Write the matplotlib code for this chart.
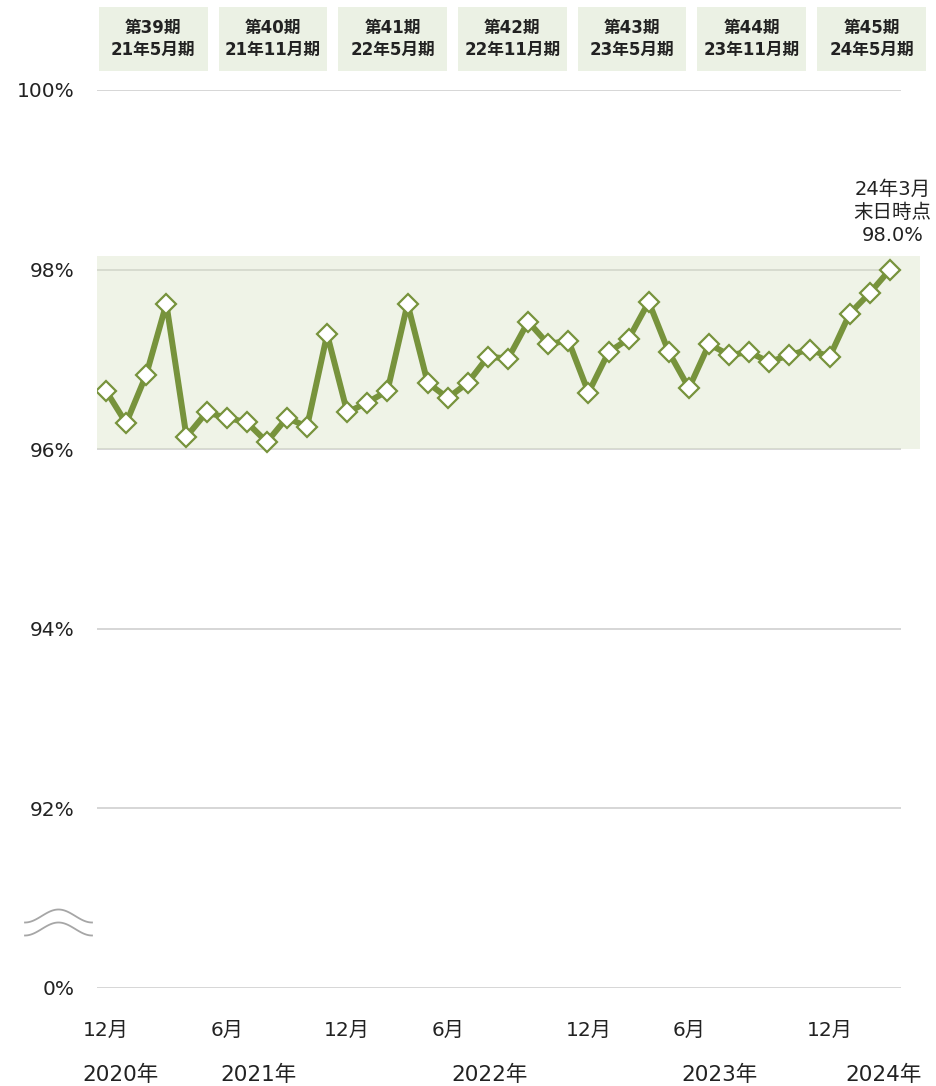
import numpy as np
import matplotlib
matplotlib.use("Agg")
import matplotlib.pyplot as plt
from matplotlib.patches import Rectangle
from matplotlib.lines import Line2D
import matplotlib.transforms as mtransforms

plt.rcParams['font.family'] = ['DejaVu Sans', 'Noto Sans CJK JP']

# monthly occupancy rate (%), Dec 2020 .. Mar 2024
rates = [96.65, 96.29, 96.83, 97.62, 96.14, 96.41, 96.35, 96.30, 96.08, 96.35,
         96.25, 97.28, 96.41, 96.52, 96.65, 97.62, 96.74, 96.57, 96.74, 97.03,
         97.01, 97.42, 97.17, 97.21, 96.63, 97.08, 97.23, 97.64, 97.08, 96.68,
         97.17, 97.05, 97.08, 96.97, 97.05, 97.11, 97.03, 97.51, 97.74, 98.00]
months = np.arange(len(rates))

month_pos = [0, 6, 12, 17, 24, 29, 36]
month_labels = ['12月', '6月', '12月', '6月', '12月', '6月', '12月']
year_pos = [0.7, 7.6, 19.1, 30.5, 38.7]
year_labels = ['2020年', '2021年', '2022年', '2023年', '2024年']

period_labels = ['第39期\n21年5月期', '第40期\n21年11月期', '第41期\n22年5月期',
                 '第42期\n22年11月期', '第43期\n23年5月期', '第44期\n23年11月期',
                 '第45期\n24年5月期']

ytick_pos = [90, 92, 94, 96, 98, 100]
ytick_labels = ['0%', '92%', '94%', '96%', '98%', '100%']

green = '#77933C'

fig = plt.figure(figsize=(9.37, 10.86), dpi=100)
ax = fig.add_axes([97/937, 1-988/1086, 804/937, 898/1086])
ax.set_xlim(-0.45, 39.55)
ax.set_ylim(90, 100)
for s in ax.spines.values():
    s.set_visible(False)

ax.set_yticks(ytick_pos)
ax.set_yticklabels(ytick_labels, fontsize=14.5, color='#222222')
ax.tick_params(axis='y', length=0, pad=16)
ax.set_xticks([])
for y in ytick_pos:
    ax.axhline(y, color='#D6D6D6', lw=1.4, zorder=1)

# shaded band
ax.add_patch(Rectangle((0, 96), 1.0236, 2.15, transform=mtransforms.blended_transform_factory(ax.transAxes, ax.transData),
                       fc='#D7E2C4', alpha=0.4, ec='none', clip_on=False, zorder=2))

ax.plot(months, rates, color=green, lw=4.3, marker='D', ms=10, mfc='white',
        mec=green, mew=1.6, zorder=5)

ax.annotate(f"24年3月\n末日時点\n{rates[-1]:.1f}%", xy=(months[-1], rates[-1]),
            xytext=(2, 18), textcoords='offset points', ha='center', va='bottom',
            fontsize=14, color='#222222', linespacing=1.25)

xt = ax.get_xaxis_transform()
for p, l in zip(month_pos, month_labels):
    ax.text(p, -0.047, l, transform=xt, ha='center', va='center', fontsize=14.5, color='#222222')
for p, l in zip(year_pos, year_labels):
    ax.text(p, -0.097, l, transform=xt, ha='center', va='center', fontsize=15.5, color='#222222')

# period header boxes
ht = mtransforms.blended_transform_factory(ax.transData, fig.transFigure)
for i, lab in enumerate(period_labels):
    c = 2.35 + 5.955 * i
    ax.add_patch(Rectangle((c - 2.7, 1 - 71/1086), 5.4, 64/1086, transform=ht,
                           fc='#EBF1E4', ec='none', clip_on=False))
    ax.text(c, 1 - 39/1086, lab, transform=ht, ha='center', va='center',
            fontsize=12, fontweight='bold', color='#222222', linespacing=1.25)

# axis break mark
t = np.linspace(0, 1, 60)
bx = 25 + 67 * t
for off in [0, 13]:
    by = 916 + off - 6.5 * np.sin(2 * np.pi * t - np.pi / 2)
    fig.add_artist(Line2D(bx / 937, 1 - by / 1086, color='#A6A6A6', lw=1.3))

fig.savefig('out.png', dpi=100)
